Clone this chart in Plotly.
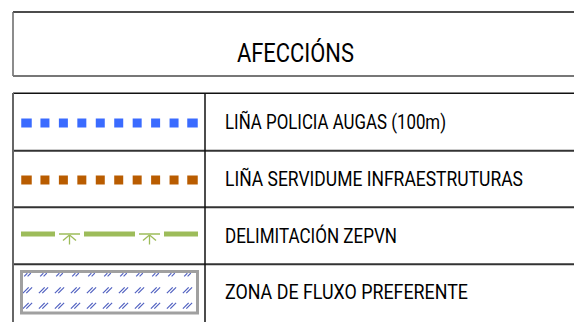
import plotly.graph_objects as go

title = "AFECCIÓNS"
labels = [
    "LIÑA POLICIA AUGAS (100m)",
    "LIÑA SERVIDUME INFRAESTRUTURAS",
    "DELIMITACIÓN ZEPVN",
    "ZONA DE FLUXO PREFERENTE",
]
square_colors = ["#3A6BFF", "#B95C00"]
green = "#9DBC5A"
hatch_color = "#5060C0"
n_squares = 10
hatch_cols = 11
hatch_rows = 3

W, H = 574, 322
FONT = "Liberation Sans Narrow, Arial Narrow, Roboto, sans-serif"

fig = go.Figure()
shapes = []

def line(x0, y0, x1, y1, color="#000", width=1.5):
    shapes.append(dict(type="line", xref="x", yref="y", x0=x0, y0=y0, x1=x1, y1=y1,
                       line=dict(color=color, width=width)))

# title box
line(13, 12, 580, 12, "#111", 1.5)
line(13, 12, 13, 76, "#666", 1.5)
line(13, 76, 580, 76, "#777", 2)

# table
row_edges = [93.3, 150.7, 207.3, 264.3]
line(13, row_edges[0], 580, row_edges[0], "#111", 1.5)
for y in row_edges[1:]:
    line(13, y, 580, y, "#333", 2)
line(13, 93, 13, 330, "#666", 2)
line(205, 93, 205, 330, "#111", 1.5)

row_centers = [122, 179, 235.5, 292]

# dotted square rows
x_first, x_last = 26.5, 192.5
step = (x_last - x_first) / (n_squares - 1)
for r, col in enumerate(square_colors):
    yc = row_centers[r] + 1
    for i in range(n_squares):
        xc = x_first + i * step
        w = 10.5 if i in (0, n_squares - 1) else 9
        shapes.append(dict(type="rect", xref="x", yref="y",
                           x0=xc - w / 2, x1=xc + w / 2, y0=yc - 4.5, y1=yc + 4.5,
                           fillcolor=col, line=dict(width=0)))

# ZEPVN line
yg = 234
for (a, b) in [(21, 55), (84, 135), (164, 198)]:
    line(a, yg, b, yg, green, 5)
for xc in [69.5, 149.5]:
    line(xc - 10.5, yg, xc + 10.5, yg, green, 1.5)
    line(xc, yg + 1, xc, yg + 10.5, green, 1.3)
    line(xc, yg + 1, xc - 6.5, yg + 6.5, green, 1.3)
    line(xc, yg + 1, xc + 6.5, yg + 6.5, green, 1.3)

# hatched zone
shapes.append(dict(type="rect", xref="x", yref="y", x0=21.5, x1=197.5, y0=271.5, y1=313,
                   fillcolor="rgba(0,0,0,0)", line=dict(color="#A0A0A0", width=3)))
hx, hy = [], []
for rr in range(hatch_rows):
    yc = 274.8 + rr * 15.5
    half = 1.6 if rr == 0 else 2.9
    for cc in range(hatch_cols):
        xc = 27.5 + cc * 16
        for off in (-1.7, 1.7):
            hx += [xc + off - half, xc + off + half, None]
            hy += [yc + half, yc - half, None]
fig.add_trace(go.Scatter(x=hx, y=hy, mode="lines", line=dict(color=hatch_color, width=1.2),
                         hoverinfo="skip", showlegend=False))

annotations = [dict(x=295.5, y=52.5, xref="x", yref="y", text=title, showarrow=False,
                    font=dict(family=FONT, size=26, color="#000"), xanchor="center",
                    yanchor="middle", align="center")]
for lab, yc in zip(labels, row_centers):
    annotations.append(dict(x=223, y=yc, xref="x", yref="y", text=lab, showarrow=False,
                            font=dict(family=FONT, size=19.5, color="#000"),
                            xanchor="left", yanchor="middle", align="left"))

fig.update_layout(
    width=W, height=H, margin=dict(l=0, r=0, t=0, b=0),
    paper_bgcolor="white", plot_bgcolor="white",
    xaxis=dict(range=[0, W], visible=False, fixedrange=True),
    yaxis=dict(range=[H, 0], visible=False, fixedrange=True),
    shapes=shapes, annotations=annotations, showlegend=False,
)

post = """
document.body.style.margin = '0';
var gd = document.getElementById('{plot_id}');
var widths = [117, 221, 298, 172, 243];
var ts = gd.querySelectorAll('g.annotation text.annotation-text');
ts.forEach(function(t, i) {
  if (widths[i]) {
    t.setAttribute('textLength', widths[i]);
    t.setAttribute('lengthAdjust', 'spacingAndGlyphs');
  }
});
"""
fig.write_html("out.html", post_script=post, config={"displayModeBar": False})
